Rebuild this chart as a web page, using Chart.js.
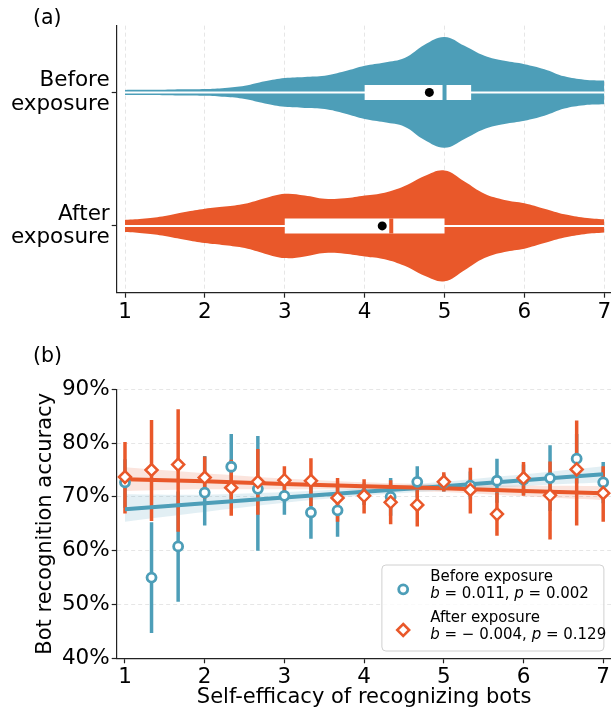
<!DOCTYPE html>
<html>
<head>
<meta charset="utf-8">
<script src="https://cdn.jsdelivr.net/npm/chart.js@4.4.1/dist/chart.umd.min.js"></script>
<style>
  html, body { margin: 0; padding: 0; background: #fff; overflow: hidden; width: 611px; height: 715px; }
  .panel { position: absolute; left: 0; }
  #wrapA { top: 0; }
  #wrapB { top: 330px; }
  .tag { position: absolute; font: 20.5px "DejaVu Sans", sans-serif; color: #000; line-height: 24px; }
</style>
</head>
<body>
<div class="panel" id="wrapA"><canvas id="violinChart" width="620" height="330"></canvas></div>
<div class="panel" id="wrapB"><canvas id="accChart" width="620" height="385"></canvas></div>
<div class="tag" style="left:33px; top:5px;">(a)</div>
<div class="tag" style="left:33px; top:343px;">(b)</div>
<script>
const FONT = '"DejaVu Sans", sans-serif';
const BLUE = '#4d9eb8';
const ORANGE = '#e9582a';

// ---- (a) distribution of self-efficacy scores ----
const groupLabels = [['Before', 'exposure'], ['After', 'exposure']];
const scoreTicks = [1, 2, 3, 4, 5, 6, 7];
const kdeX = [1, 1.25, 1.5, 1.75, 2, 2.25, 2.5, 2.75, 3, 3.25, 3.5, 3.75, 4,
              4.25, 4.5, 4.75, 5, 5.25, 5.5, 5.75, 6, 6.25, 6.5, 6.75, 7];
// relative violin width (widest point = 1)
const beforeDensity = [0.045, 0.047, 0.05, 0.055, 0.06, 0.08, 0.12, 0.2, 0.26, 0.28, 0.3, 0.38, 0.48,
                       0.54, 0.62, 0.86, 1.0, 0.84, 0.66, 0.57, 0.51, 0.42, 0.29, 0.23, 0.215];
const afterDensity = [0.11, 0.135, 0.18, 0.25, 0.31, 0.35, 0.4, 0.5, 0.58, 0.55, 0.49, 0.5, 0.55,
                      0.6, 0.72, 0.9, 1.0, 0.8, 0.58, 0.47, 0.41, 0.31, 0.21, 0.15, 0.12];
const beforeQuartiles = [4, 5, 5.333];   // q1, median, q3
const afterQuartiles = [3, 4.333, 5];
const beforeMean = 4.81;
const afterMean = 4.22;
const scoreMin = 1, scoreMax = 7;

// ---- (b) recognition accuracy by self-efficacy ----
const effX = [1, 1.333, 1.667, 2, 2.333, 2.667, 3, 3.333, 3.667, 4,
              4.333, 4.667, 5, 5.333, 5.667, 6, 6.333, 6.667, 7];
const beforeAcc = [72.7, 55.0, 60.8, 70.8, 75.6, 71.5, 70.2, 67.1, 67.5, 70.4,
                   70.0, 72.8, 72.6, 72.1, 73.0, 73.2, 73.5, 77.1, 72.7];
const beforeLo = [68.0, 44.7, 50.5, 64.7, 69.5, 60.0, 66.7, 62.2, 62.6, 68.5,
                  66.5, 69.9, 71.0, 69.5, 68.9, 70.4, 67.4, 72.5, 68.8];
const beforeHi = [77.0, 65.3, 71.0, 77.6, 81.7, 81.3, 73.7, 72.0, 72.4, 72.5,
                  73.5, 75.7, 74.2, 74.7, 77.1, 76.0, 79.6, 81.7, 76.5];
const afterAcc = [73.7, 75.0, 76.0, 73.6, 71.7, 72.8, 73.1, 73.0, 69.8, 70.2,
                  69.0, 68.5, 72.8, 71.3, 66.8, 73.5, 70.3, 75.1, 70.7];
const afterLo = [66.9, 65.5, 63.5, 69.7, 66.5, 66.7, 70.5, 68.3, 65.4, 66.9,
                 64.9, 64.5, 71.0, 66.9, 62.8, 70.2, 62.1, 64.7, 65.4];
const afterHi = [80.2, 84.3, 86.3, 77.5, 76.9, 78.9, 75.7, 77.2, 73.5, 73.3,
                 73.1, 72.4, 74.6, 75.4, 70.8, 76.5, 76.6, 84.2, 75.7];
const fitX = [1, 2, 3, 4, 5, 6, 7];
const beforeFit = [67.7, 68.8, 69.9, 70.95, 72.0, 73.1, 74.2];
const beforeBandLo = [65.4, 67.2, 68.9, 70.25, 71.2, 72.0, 72.7];
const beforeBandHi = [70.5, 70.4, 70.9, 71.65, 72.8, 74.2, 75.7];
const afterFit = [73.3, 72.9, 72.4, 72.0, 71.6, 71.1, 70.7];
const afterBandLo = [71.1, 71.4, 71.4, 71.3, 70.9, 70.1, 69.4];
const afterBandHi = [75.5, 74.4, 73.4, 72.7, 72.3, 72.1, 72.0];
const accTicks = [40, 50, 60, 70, 80, 90];
const legendRows = [
  { name: 'Before exposure', b: '0.011', p: '0.002', color: BLUE, shape: 'circle' },
  { name: 'After exposure', b: '\u2212 0.004', p: '0.129', color: ORANGE, shape: 'diamond' }
];

Chart.defaults.font.family = FONT;
Chart.defaults.color = '#000';

const HALF = 0.415;   // widest half-width of a violin, in category units
const BOXH = 0.056;
const TICK_FONT = { size: 21.5 };

function violinSets(pos, dens, quart, mean, color) {
  const upper = kdeX.map((x, i) => ({ x: x, y: pos - dens[i] * HALF }));
  const lower = kdeX.map((x, i) => ({ x: x, y: pos + dens[i] * HALF }));
  return [
    { data: upper, borderColor: 'transparent', borderWidth: 0, pointRadius: 0, tension: 0.4, fill: false, order: 20 },
    { data: lower, borderColor: 'transparent', borderWidth: 0, pointRadius: 0, tension: 0.4, fill: '-1', backgroundColor: color, order: 20 },
    { data: [{ x: scoreMin, y: pos }, { x: scoreMax, y: pos }], borderColor: '#fff', borderWidth: 2, pointRadius: 0, order: 15 },
    { data: [{ x: quart[0], y: pos }, { x: quart[2], y: pos }], borderColor: '#fff', borderWidth: 15, borderCapStyle: 'butt', pointRadius: 0, order: 14 },
    { data: [{ x: quart[1], y: pos - BOXH }, { x: quart[1], y: pos + BOXH }], borderColor: color, borderWidth: 4, borderCapStyle: 'butt', pointRadius: 0, order: 13 },
    { data: [{ x: mean, y: pos }], showLine: false, pointRadius: 4.5, backgroundColor: '#000', borderWidth: 0, order: 12 }
  ];
}

new Chart(document.getElementById('violinChart'), {
  type: 'line',
  data: {
    datasets: [].concat(
      violinSets(0, beforeDensity, beforeQuartiles, beforeMean, BLUE),
      violinSets(1, afterDensity, afterQuartiles, afterMean, ORANGE)
    )
  },
  options: {
    responsive: false,
    animation: false,
    events: [],
    layout: { padding: { top: 22.7, right: 7.4, bottom: 0, left: 0 } },
    plugins: { legend: { display: false }, tooltip: { enabled: false } },
    scales: {
      x: {
        type: 'linear', min: 0.896, max: 7.104,
        afterBuildTicks: s => { s.ticks = scoreTicks.map(v => ({ value: v })); },
        afterFit: s => { s.height = 37.3; },
        grid: { color: '#e6e6e6', lineWidth: 1, tickColor: '#222', tickLength: 5, tickWidth: 1.2 },
        border: { display: true, color: '#222', width: 1.2, dash: [4, 3] },
        ticks: { font: TICK_FONT, padding: 1.4, maxRotation: 0 }
      },
      y: {
        type: 'linear', min: -0.5, max: 1.5, reverse: true,
        afterBuildTicks: s => { s.ticks = [{ value: 0 }, { value: 1 }]; },
        afterFit: s => { s.width = 116.7; },
        grid: { drawOnChartArea: false, tickColor: '#222', tickLength: 5, tickWidth: 1.2 },
        border: { display: true, color: '#222', width: 1.2 },
        ticks: { font: { size: 21.5, lineHeight: 1.1 }, padding: 2, callback: v => groupLabels[v] }
      }
    }
  }
});

// ---- (b) ----
function errSegments(lo, hi) {
  const pts = [];
  effX.forEach((x, i) => { pts.push({ x: x, y: lo[i] }, { x: x, y: hi[i] }, { x: x, y: null }); });
  return pts;
}
const pairs = (xs, ys) => xs.map((x, i) => ({ x: x, y: ys[i] }));

const statsLegend = {
  id: 'statsLegend',
  afterDraw(chart) {
    const ctx = chart.ctx, a = chart.chartArea;
    const w = 222, h = 86;
    const x0 = a.right - 7.6 - w, y0 = a.bottom - 7.3 - h;
    ctx.save();
    ctx.beginPath();
    ctx.roundRect(x0, y0, w, h, 4);
    ctx.fillStyle = 'rgba(255,255,255,0.8)';
    ctx.fill();
    ctx.strokeStyle = '#d0d0d0';
    ctx.lineWidth = 1;
    ctx.stroke();
    legendRows.forEach((row, i) => {
      const my = y0 + 24.3 + i * 40.7;
      const mx = x0 + 21.3;
      ctx.beginPath();
      if (row.shape === 'circle') {
        ctx.arc(mx, my, 4.5, 0, Math.PI * 2);
        ctx.lineWidth = 2.8;
      } else {
        ctx.moveTo(mx, my - 6); ctx.lineTo(mx + 6, my); ctx.lineTo(mx, my + 6); ctx.lineTo(mx - 6, my); ctx.closePath();
        ctx.lineWidth = 2.5;
      }
      ctx.fillStyle = '#fff';
      ctx.fill();
      ctx.strokeStyle = row.color;
      ctx.stroke();

      ctx.fillStyle = '#000';
      ctx.textBaseline = 'middle';
      ctx.textAlign = 'left';
      const tx = x0 + 48.3;
      ctx.font = '15px ' + FONT;
      ctx.fillText(row.name, tx, y0 + 12.3 + i * 41);
      const parts = [['b', true], [' = ' + row.b + ', ', false], ['p', true], [' = ' + row.p, false]];
      let cx = tx;
      const sy = y0 + 29.3 + i * 41;
      parts.forEach(([t, it]) => {
        ctx.font = (it ? 'italic ' : '') + '15px ' + FONT;
        ctx.fillText(t, cx, sy);
        cx += ctx.measureText(t).width;
      });
    });
    ctx.restore();
  }
};

new Chart(document.getElementById('accChart'), {
  type: 'line',
  data: {
    datasets: [
      { data: pairs(fitX, beforeBandLo), borderColor: 'transparent', borderWidth: 0, pointRadius: 0, tension: 0.3, fill: false, order: 30 },
      { data: pairs(fitX, beforeBandHi), borderColor: 'transparent', borderWidth: 0, pointRadius: 0, tension: 0.3, fill: '-1', backgroundColor: 'rgba(77,158,184,0.16)', order: 30 },
      { data: pairs(fitX, afterBandLo), borderColor: 'transparent', borderWidth: 0, pointRadius: 0, tension: 0.3, fill: false, order: 30 },
      { data: pairs(fitX, afterBandHi), borderColor: 'transparent', borderWidth: 0, pointRadius: 0, tension: 0.3, fill: '-1', backgroundColor: 'rgba(233,88,42,0.16)', order: 30 },
      { data: errSegments(beforeLo, beforeHi), borderColor: BLUE, borderWidth: 3.5, borderCapStyle: 'butt', pointRadius: 0, spanGaps: false, order: 25 },
      { data: errSegments(afterLo, afterHi), borderColor: ORANGE, borderWidth: 3.5, borderCapStyle: 'butt', pointRadius: 0, spanGaps: false, order: 24 },
      { data: pairs(fitX, beforeFit), borderColor: BLUE, borderWidth: 4, pointRadius: 0, order: 20 },
      { data: pairs(fitX, afterFit), borderColor: ORANGE, borderWidth: 4, pointRadius: 0, order: 19 },
      { data: pairs(effX, beforeAcc), showLine: false, pointStyle: 'circle', pointRadius: 4.5, borderWidth: 2.8, borderColor: BLUE, backgroundColor: '#fff', order: 10 },
      { data: pairs(effX, afterAcc), showLine: false, pointStyle: 'rectRot', pointRadius: 6, borderWidth: 2.5, borderColor: ORANGE, backgroundColor: '#fff', order: 9 }
    ]
  },
  options: {
    responsive: false,
    animation: false,
    events: [],
    layout: { padding: { top: 59.3, right: 7.4, bottom: 0, left: 0 } },
    plugins: { legend: { display: false }, tooltip: { enabled: false } },
    scales: {
      x: {
        type: 'linear', min: 0.896, max: 7.104,
        afterBuildTicks: s => { s.ticks = scoreTicks.map(v => ({ value: v })); },
        afterFit: s => { s.height = 56.7; },
        grid: { drawOnChartArea: false, tickColor: '#222', tickLength: 5, tickWidth: 1.2 },
        border: { display: true, color: '#222', width: 1.2 },
        ticks: { font: TICK_FONT, padding: 0.8, maxRotation: 0 },
        title: { display: true, text: 'Self-efficacy of recognizing bots', font: { size: 21 }, padding: { top: 0, bottom: 4.4 } }
      },
      y: {
        type: 'linear', min: 40, max: 90,
        afterBuildTicks: s => { s.ticks = accTicks.map(v => ({ value: v })); },
        afterFit: s => { s.width = 116.7; },
        grid: { color: '#e6e6e6', lineWidth: 1, tickColor: '#222', tickLength: 5, tickWidth: 1.2 },
        border: { display: true, color: '#222', width: 1.2, dash: [4, 3] },
        ticks: { font: TICK_FONT, padding: 2, callback: v => v + '%' },
        title: { display: true, text: 'Bot recognition accuracy', font: { size: 21 }, padding: { top: 33, bottom: 0 } }
      }
    }
  },
  plugins: [statsLegend]
});
</script>
</body>
</html>
